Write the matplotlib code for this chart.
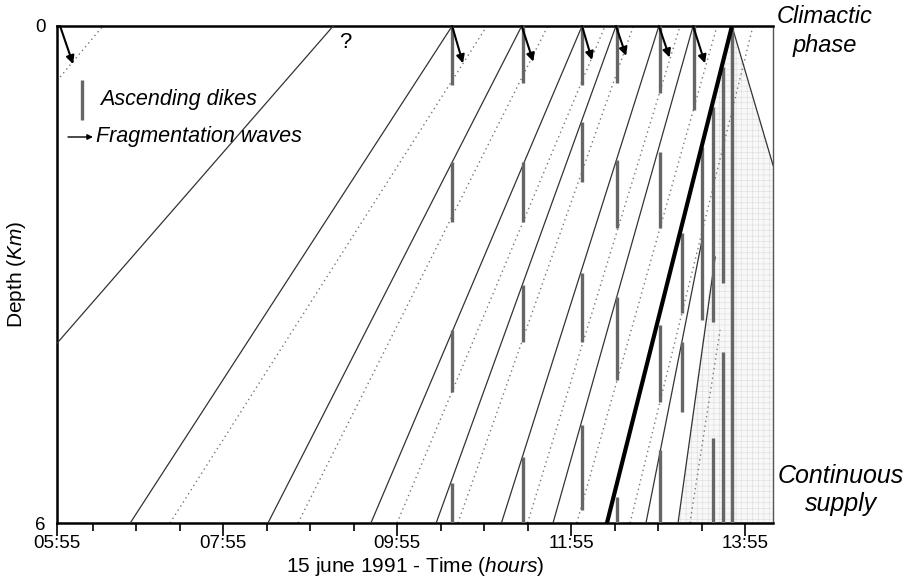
import matplotlib
matplotlib.use('Agg')
import matplotlib.pyplot as plt
from matplotlib.patches import Polygon

plt.rcParams['font.family'] = ['Liberation Sans', 'DejaVu Sans']
plt.rcParams['mathtext.fontset'] = 'custom'
plt.rcParams['mathtext.rm'] = 'Liberation Sans'
plt.rcParams['mathtext.it'] = 'Liberation Sans:italic'
plt.rcParams['hatch.linewidth'] = 0.4

###############################################################################
# time is minutes after 05:55, depth in km

T_START, T_END = 5.5, 499.3
DEPTH_MAX = 6.0

# magma fronts (solid): t0, d0, t1, d1
solid_lines = [
    (5.5, 3.83, 196.0, 0.0),
    (56.0, 6.0, 278.0, 0.0),
    (151.0, 6.0, 326.0, 0.0),
    (222.0, 6.0, 367.6, 0.0),
    (267.0, 6.0, 391.0, 0.0),
    (312.0, 6.0, 420.6, 0.0),
    (347.6, 6.0, 444.2, 0.0),
    (411.7, 6.0, 450.4, 2.58),
    (433.8, 6.0, 459.4, 2.79),
]
# climactic front (thick)
thick_line = (384.8, 6.0, 471.0, 0.0)

# dotted companions
dotted_lines = [
    (5.5, 0.66, 37.2, 0.0),
    (83.4, 6.0, 302.0, 0.0),
    (171.7, 6.0, 344.0, 0.0),
    (240.0, 6.0, 383.5, 0.0),
    (282.0, 6.0, 403.0, 0.0),
    (330.0, 6.0, 435.2, 0.0),
    (364.0, 6.0, 460.7, 0.0),
    (400.7, 6.0, 485.5, 0.0),
    (442.0, 6.0, 462.8, 3.67),
]

# ascending dikes: time, [(top, bottom), ...]
dike_times = [278.0, 327.0, 367.6, 391.7, 421.3, 436.6, 444.8, 450.0, 458.0, 464.9, 471.0]
dike_spans = [
    [(0.0, 0.71), (1.64, 2.37), (3.67, 4.42), (5.52, 6.0)],
    [(0.0, 0.69), (1.64, 2.37), (3.13, 3.82), (5.20, 6.0)],
    [(0.0, 0.71), (1.16, 1.88), (2.98, 3.82), (4.82, 5.84)],
    [(0.0, 0.69), (1.62, 2.44), (3.27, 4.27), (5.69, 6.0)],
    [(0.0, 0.81), (1.52, 2.44), (3.61, 4.54), (5.12, 6.0)],
    [(2.50, 3.46), (3.82, 4.66)],
    [(0.0, 1.01)],
    [(1.46, 3.55)],
    [(0.98, 3.57), (4.97, 6.0)],
    [(0.49, 3.10), (3.94, 6.0)],
    [(0.0, 6.0)],
]

# fragmentation waves: start time, end time, end depth
wave_t0 = [7.6, 278.0, 326.0, 367.6, 391.0, 420.6, 444.2]
wave_t1 = [16.6, 285.5, 334.0, 374.5, 398.0, 428.0, 452.4]
wave_d1 = [0.46, 0.45, 0.43, 0.41, 0.36, 0.38, 0.45]

# continuous supply region
supply_t = [471.0, 499.3, 499.3, 433.8, 458.0, 458.0]
supply_d = [0.0, 1.68, 6.0, 6.0, 2.8, 0.98]

tick_pos = [T_START, 120, 240, 360, 480]
tick_lbl = ['05:55', '07:55', '09:55', '11:55', '13:55']
minor_pos = [30, 60, 90, 150, 180, 210, 270, 300, 330, 390, 420, 450]

###############################################################################

fig = plt.figure(figsize=(9.1, 5.88), dpi=100)
ax = fig.add_axes([57 / 910, 1 - 523 / 588, 716 / 910, 497 / 588])

ax.add_patch(Polygon(list(zip(supply_t, supply_d)), closed=True,
                     facecolor='#f8f8f8', edgecolor='#dcdcdc', hatch='+++',
                     linewidth=0, zorder=1))
ax.plot([supply_t[0], supply_t[1]], [supply_d[0], supply_d[1]],
        color='#333333', lw=0.9, zorder=3)

for t0, d0, t1, d1 in dotted_lines:
    ax.plot([t0, t1], [d0, d1], color='#777777', lw=1.0, ls=(0, (1, 2.5)), zorder=2)

for t0, d0, t1, d1 in solid_lines:
    ax.plot([t0, t1], [d0, d1], color='#333333', lw=0.9, zorder=3)

ax.plot(thick_line[0::2], thick_line[1::2], color='black', lw=3, zorder=4)

for t, spans in zip(dike_times, dike_spans):
    for top, bot in spans:
        ax.plot([t, t], [top, bot], color='#666666', lw=2.4, zorder=3,
                solid_capstyle='butt')

for t0, t1, d1 in zip(wave_t0, wave_t1, wave_d1):
    ax.annotate('', xy=(t1, d1), xytext=(t0, 0.0),
                arrowprops=dict(arrowstyle='-|>', color='black', lw=1.5,
                                mutation_scale=12, shrinkA=0, shrinkB=0),
                zorder=5)

# legend drawn inside the plot
ax.plot([22.8, 22.8], [0.65, 1.13], color='#666666', lw=2.4, solid_capstyle='butt')
ax.annotate('', xy=(30.3, 1.34), xytext=(13.1, 1.34),
            arrowprops=dict(arrowstyle='-|>', color='black', lw=1.0,
                            mutation_scale=8, shrinkA=0, shrinkB=0))
ax.text(35.2, 0.89, 'Ascending dikes', style='italic', fontsize=15.5,
        ha='left', va='center')
ax.text(32.4, 1.34, 'Fragmentation waves', style='italic', fontsize=15.5,
        ha='left', va='center')
ax.text(204, 0.2, '?', fontsize=16, ha='center', va='center')

ax.set_xlim(T_START, T_END)
ax.set_ylim(DEPTH_MAX, 0)
ax.set_xticks(tick_pos)
ax.set_xticklabels(tick_lbl)
ax.set_xticks(minor_pos, minor=True)
ax.set_yticks([0, 6])
ax.set_yticklabels(['0', '6'])
ax.tick_params(axis='x', which='major', length=9, width=1.2, labelsize=13.5, pad=0)
ax.tick_params(axis='x', which='minor', length=6, width=1.2)
ax.tick_params(axis='y', length=0, labelsize=13.5, pad=8)
for side in ['left', 'bottom', 'top']:
    ax.spines[side].set_linewidth(1.8)
ax.spines['right'].set_linewidth(1.0)
ax.spines['right'].set_color('#555555')

ax.set_xlabel(r'15 june 1991 - Time $\mathit{(hours)}$', fontsize=15, labelpad=2)
ax.set_ylabel(r'Depth $\mathit{(Km)}$', fontsize=15, labelpad=5)

fig.text(825 / 910, 1 - 31 / 588, 'Climactic\nphase', style='italic',
         fontsize=17, ha='center', va='center', linespacing=1.3)
fig.text(841 / 910, 1 - 490 / 588, 'Continuous\nsupply', style='italic',
         fontsize=18, ha='center', va='center', linespacing=1.2)

fig.savefig('out.png', dpi=100)
